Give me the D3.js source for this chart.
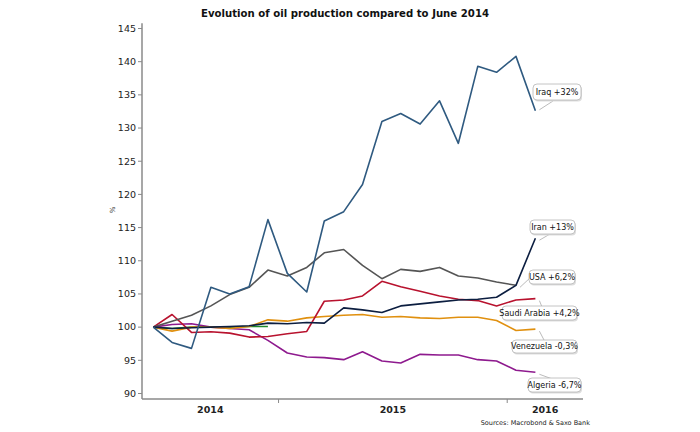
<!DOCTYPE html>
<html><head><meta charset="utf-8">
<script src="https://cdn.jsdelivr.net/npm/d3@7/dist/d3.min.js"></script>
<style>
html,body{margin:0;padding:0;background:#fff;}
text{font-family:"DejaVu Sans",Verdana,sans-serif;}
</style></head>
<body><svg id="c" width="700" height="432"></svg>
<script>
const months = ["2014-06","2014-07","2014-08","2014-09","2014-10","2014-11","2014-12",
  "2015-01","2015-02","2015-03","2015-04","2015-05","2015-06","2015-07","2015-08","2015-09","2015-10","2015-11","2015-12",
  "2016-01","2016-02"];
const iraq = [100,97.7,96.8,106.0,105.0,106.1,116.2,108.1,105.3,116.0,117.4,121.5,131.0,132.2,130.6,134.1,127.7,139.3,138.4,140.8,132.6];
const iran = [100,99.8,99.9,100.0,100.1,100.2,100.6,100.5,100.7,100.6,102.9,102.6,102.2,103.2,103.5,103.8,104.1,104.2,104.5,106.3,113.4];
const usa = [100,100.9,101.8,103.2,104.9,106.0,108.6,107.7,109.0,111.2,111.7,109.3,107.3,108.7,108.4,109.0,107.7,107.4,106.8,106.3];
const saudi = [100,101.9,99.2,99.3,99.1,98.5,98.6,99.0,99.35,103.9,104.1,104.7,106.9,106.1,105.4,104.7,104.2,104.0,103.2,104.1,104.3];
const venezuela = [100,99.4,100.0,100.0,99.8,100.1,101.1,100.9,101.4,101.6,101.8,101.9,101.5,101.6,101.4,101.3,101.5,101.5,101.0,99.5,99.7];
const algeria = [100,100.4,100.5,100.0,99.8,99.6,98.0,96.1,95.5,95.4,95.1,96.3,94.9,94.6,95.9,95.8,95.8,95.1,94.9,93.5,93.2];
const other = [100,99.8,100.0,100.0,100.0,100.1,100.1];
const yTicks = [90,95,100,105,110,115,120,125,130,135,140,145];
const yearLabels = ["2014","2015","2016"];
const labelTexts = ["Iraq +32%","Iran +13%","USA +6,2%","Saudi Arabia +4,2%","Venezuela -0,3%","Algeria -6,7%"];

const svg = d3.select("#c");
const parse = s => { const [y,m] = s.split("-").map(Number); return new Date(y, m-1, 15); };
const dates = months.map(parse);
const x = d3.scaleTime().domain([new Date(2014,4,28), new Date(2016,4,1)]).range([142,583]);
const y = d3.scaleLinear().domain([90,145]).range([393.5,28.5]);

// title
svg.append("text").attr("x",345).attr("y",17).attr("text-anchor","middle")
  .attr("font-size","11px").attr("font-weight","bold").attr("fill","#111")
  .attr("textLength",288).attr("lengthAdjust","spacingAndGlyphs")
  .text("Evolution of oil production compared to June 2014");

// axes
const axCol = "#8a8a8a";
svg.append("line").attr("x1",142).attr("x2",142).attr("y1",y(145.8)).attr("y2",399).attr("stroke",axCol).attr("stroke-width",1.5);
svg.append("line").attr("x1",142).attr("x2",583).attr("y1",399).attr("y2",399).attr("stroke",axCol).attr("stroke-width",1.5);
const yAx = svg.append("g");
yTicks.forEach(t => {
  yAx.append("line").attr("x1",138).attr("x2",142).attr("y1",y(t)).attr("y2",y(t)).attr("stroke",axCol);
  yAx.append("text").attr("x",136).attr("y",y(t)).attr("dy","0.35em").attr("text-anchor","end")
    .attr("font-size","9.5px").attr("fill","#222").text(t);
});
svg.append("text").attr("transform","translate(115,210) rotate(-90)").attr("text-anchor","middle")
  .attr("font-size","7px").attr("fill","#333").text("%");
// x ticks at year starts
[new Date(2015,0,1), new Date(2016,0,1)].forEach(d => {
  svg.append("line").attr("x1",x(d)).attr("x2",x(d)).attr("y1",399).attr("y2",403).attr("stroke",axCol);
});
const bands = [[x.domain()[0], new Date(2015,0,1)],[new Date(2015,0,1), new Date(2016,0,1)],[new Date(2016,0,1), x.domain()[1]]];
yearLabels.forEach((l,i) => {
  const cx = (x(bands[i][0]) + x(bands[i][1]))/2;
  svg.append("text").attr("x",cx).attr("y",413).attr("text-anchor","middle")
    .attr("font-size","9.5px").attr("font-weight","bold").attr("fill","#222").text(l);
});
svg.append("text").attr("x",590).attr("y",425).attr("text-anchor","end")
  .attr("font-size","6.5px").attr("fill","#222").text("Sources: Macrobond & Saxo Bank");

// lines
const line = d3.line().x((d,i)=>x(dates[i])).y(d=>y(d));
const series = [
  {v:other, c:"#1f8a2a"},
  {v:algeria, c:"#8e1a8e"},
  {v:venezuela, c:"#e0900f"},
  {v:saudi, c:"#b8122e"},
  {v:usa, c:"#555555"},
  {v:iran, c:"#0c1e40"},
  {v:iraq, c:"#2f5a80"}
];
series.forEach(s => {
  svg.append("path").datum(s.v).attr("d",line).attr("fill","none")
    .attr("stroke",s.c).attr("stroke-width",1.6).attr("stroke-linejoin","round");
});

// labels
const boxes = [
  {s:iraq,  bx:533, by:84,  w:48, h:16, lx:553, ly:101},
  {s:iran,  bx:530, by:220, w:45, h:14, lx:550, ly:234},
  {s:usa,   bx:529, by:270, w:46, h:14, lx:531, ly:277},
  {s:saudi, bx:502, by:306, w:75, h:14, lx:542, ly:307},
  {s:venezuela, bx:512, by:340, w:65, h:13, lx:544, ly:340},
  {s:algeria, bx:528, by:378, w:53, h:14, lx:555, ly:380}
];
boxes.forEach((b,i) => {
  const last = b.s.length-1;
  const px = x(dates[last])+4, py = y(b.s[last]) + (i===0?-1:2);
  svg.append("line").attr("x1",px).attr("y1",py).attr("x2",b.lx).attr("y2",b.ly)
    .attr("stroke","#aaa").attr("stroke-width",0.8);
  svg.append("rect").attr("x",b.bx+1).attr("y",b.by+1.5).attr("width",b.w).attr("height",b.h)
    .attr("rx",4).attr("fill","#ddd");
  svg.append("rect").attr("x",b.bx).attr("y",b.by).attr("width",b.w).attr("height",b.h)
    .attr("rx",4).attr("fill","#fff").attr("stroke","#b5b5b5").attr("stroke-width",0.8);
  svg.append("text").attr("x",b.bx+b.w/2).attr("y",b.by+b.h/2).attr("dy","0.35em")
    .attr("text-anchor","middle").attr("font-size","8px").attr("fill","#111").text(labelTexts[i]);
});
</script></body></html>
